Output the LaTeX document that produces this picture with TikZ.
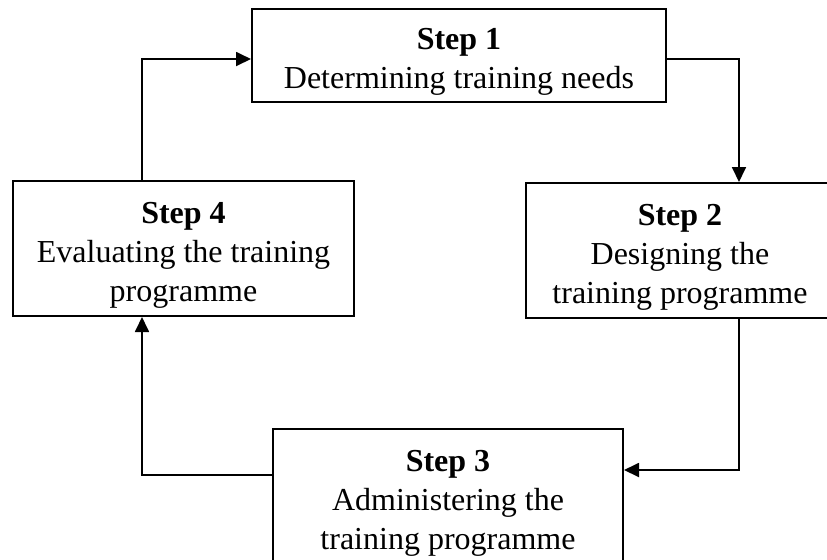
\documentclass[tikz,border=0pt]{standalone}
\usepackage{fontspec}
\setmainfont{Liberation Serif}
\usepackage{tikz}
\usetikzlibrary{arrows.meta, positioning, calc}
\newcommand{\stephead}[1]{\rule{0pt}{17pt}\textbf{Step #1}}

\begin{document}
\begin{tikzpicture}[x=0.5pt, y=-0.5pt,
    stepbox/.style={draw, line width=1pt, align=center, inner sep=0pt,
      font=\fontsize{16}{19.5}\selectfont},
    flow/.style={line width=0.9pt, -{Triangle[length=7.5pt, width=7pt]}}]
  \useasboundingbox (0,0) rectangle (827,559);
  \clip (0,0) rectangle (827,559);

  % the four steps of the cycle
  \node[stepbox, minimum width=207pt, minimum height=46.5pt] (s1) at (459,55)
    {\stephead{1}\\Determining training needs};
  \node[stepbox, minimum width=154pt, minimum height=67.5pt] (s2) at (680,250.5)
    {\stephead{2}\\Designing the\\training programme};
  \node[stepbox, minimum width=175pt, minimum height=67.5pt] (s3) at (448,496.5)
    {\stephead{3}\\Administering the\\training programme};
  \node[stepbox, minimum width=170.5pt, minimum height=67.5pt] (s4) at (183.5,248.5)
    {\stephead{4}\\Evaluating the training\\programme};

  % levels of the connectors
  \coordinate (xl) at (142,0);
  \coordinate (xr) at (739,0);
  \coordinate (ytop) at (0,59);
  \coordinate (yin) at (0,470);
  \coordinate (yout) at (0,475);

  \draw[flow] (s1.east |- ytop) -| (s2.north -| xr);
  \draw[flow] (s2.south -| xr) |- (s3.east |- yin);
  \draw[flow] (s3.west |- yout) -| (s4.south -| xl);
  \draw[flow] (s4.north -| xl) |- (s1.west |- ytop);
\end{tikzpicture}
\end{document}
